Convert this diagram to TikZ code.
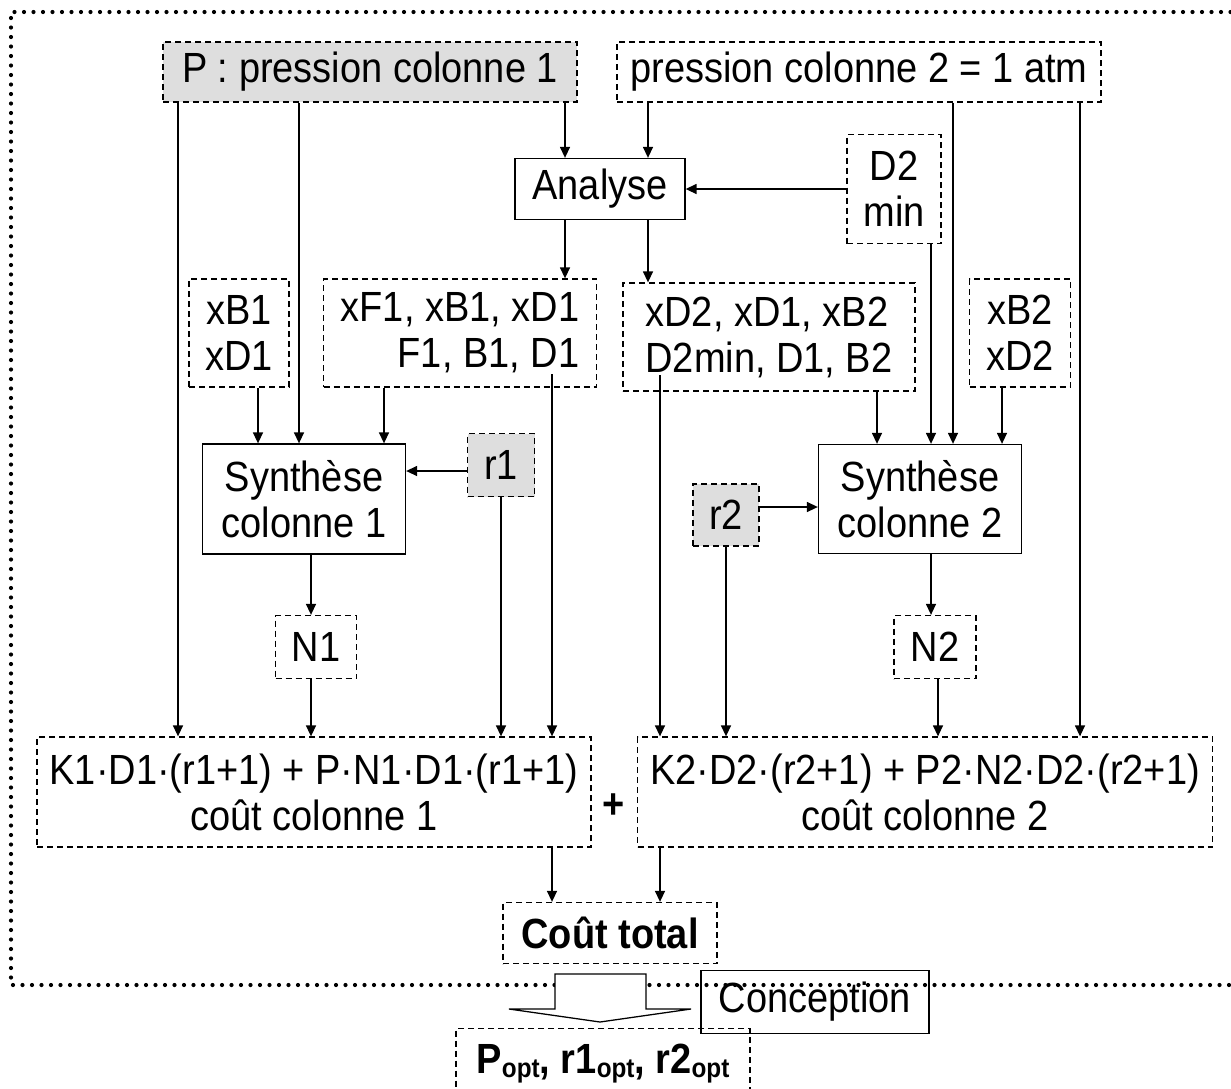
\documentclass[tikz,border=0pt]{standalone}
\usepackage{fontspec}
\setmainfont{Liberation Sans}[FakeStretch=0.9]
\usetikzlibrary{arrows.meta}
\tikzset{
    % Boxes
    box line/.style={line width=1.3pt},
    plain box/.style={draw,box line,inner sep=0pt,align=center},
    dashed box/.style={plain box,dash pattern=on 6pt off 4pt},
    grey box/.style={dashed box,fill=black!13},
    %
    % Arrows
    arrow tip/.tip={Triangle[length=11pt,width=10pt]},
    arr/.style={-{arrow tip},line width=1.4pt},
    hollow arrow/.style={draw,box line,fill=white},
    %
    % Frame
    dotted frame/.style={line width=4.2pt,dash pattern=on 0pt off 9.5pt,line cap=round},
}
\newcommand{\opt}{\raisebox{-4pt}{\fontsize{27}{27}\selectfont opt}}

\begin{document}
\begin{tikzpicture}[x=1pt,y=-1pt,font=\fontsize{42.2}{46}\selectfont]
    \clip (0,0) rectangle (1231,1088);
    \draw[dotted frame] (1240,12) -- (11,12) -- (11,985) -- (1240,985);

    % Inputs
    \node[grey box,minimum width=414pt,minimum height=60pt] (P) at (370,72) {P : pression colonne 1};
    \node[dashed box,minimum width=484pt,minimum height=60pt] (P2) at (859,72) {pression colonne 2 = 1 atm};
    \node[plain box,minimum width=170pt,minimum height=61pt] (Analyse) at (600,189) {Analyse};
    \node[dashed box,minimum width=94pt,minimum height=109pt] (D2min) at (894,189) {D2\\min};

    % Specifications
    \node[dashed box,minimum width=100pt,minimum height=108pt] (xB1) at (239,333) {xB1\\xD1};
    \node[dashed box,minimum width=273pt,minimum height=108pt,align=right] (xF1) at (460,333) {xF1, xB1, xD1\\F1, B1, D1};
    \node[dashed box,minimum width=292pt,minimum height=108pt,align=left] (xD2) at (769,337) {xD2, xD1, xB2\\D2min, D1, B2};
    \node[dashed box,minimum width=101pt,minimum height=108pt] (xB2) at (1020,333) {xB2\\xD2};
    \coordinate (D1 out) at (552,374);
    \coordinate (D2min out) at (660,375);

    % Columns
    \node[plain box,minimum width=203pt,minimum height=110pt] (Synth1) at (304,499) {Synthèse\\colonne 1};
    \node[grey box,minimum width=67pt,minimum height=63pt] (r1) at (501,465) {r1};
    \node[plain box,minimum width=203pt,minimum height=109pt] (Synth2) at (920,499) {Synthèse\\colonne 2};
    \node[grey box,minimum width=66pt,minimum height=62pt] (r2) at (726,515) {r2};
    \node[dashed box,minimum width=81pt,minimum height=63pt] (N1) at (316,647) {N1};
    \node[dashed box,minimum width=82pt,minimum height=63pt] (N2) at (935,647) {N2};

    % Costs
    \node[dashed box,minimum width=554pt,minimum height=110pt] (Cost1) at (314,792) {K1·D1·(r1+1) + P·N1·D1·(r1+1)\\coût colonne 1};
    \node[font=\fontsize{42.2}{46}\selectfont\bfseries] (Plus) at (614,806) {+};
    \node[dashed box,minimum width=575pt,minimum height=110pt] (Cost2) at (925,792) {K2·D2·(r2+1) + P2·N2·D2·(r2+1)\\coût colonne 2};
    \node[dashed box,minimum width=214pt,minimum height=61pt,font=\fontsize{42.2}{46}\selectfont\bfseries] (Total) at (610,933) {Coût total};

    % Design
    \draw[hollow arrow] (555,974) -- (646,974) -- (646,1009) -- (691,1009) -- (600,1022) -- (509,1009) -- (555,1009) -- cycle;
    \node[plain box,minimum width=228pt,minimum height=63pt] (Conception) at (815,1002) {Conception};
    \node[dashed box,minimum width=294pt,minimum height=70pt,anchor=north,font=\fontsize{42.2}{46}\selectfont\bfseries] (Popt) at (603,1028) {P\opt, r1\opt, r2\opt};

    % Links
    \draw[arr] (P.south -| 178,0) -- (Cost1.north -| 178,0);
    \draw[arr] (P.south -| 299,0) -- (Synth1.north -| 299,0);
    \draw[arr] (P.south -| 565,0) -- (Analyse.north -| 565,0);
    \draw[arr] (P2.south -| 648,0) -- (Analyse.north -| 648,0);
    \draw[arr] (P2.south -| 953,0) -- (Synth2.north -| 953,0);
    \draw[arr] (P2.south -| 1080,0) -- (Cost2.north -| 1080,0);
    \draw[arr] (Analyse.south -| 565,0) -- (xF1.north -| 565,0);
    \draw[arr] (Analyse.south -| 648,0) -- (xD2.north -| 648,0);
    \draw[arr] (D2min.west) -- (Analyse.east);
    \draw[arr] (D2min.south -| 931,0) -- (Synth2.north -| 931,0);
    \draw[arr] (xB1.south -| 258,0) -- (Synth1.north -| 258,0);
    \draw[arr] (xF1.south -| 384,0) -- (Synth1.north -| 384,0);
    \draw[arr] (D1 out) -- (Cost1.north -| D1 out);
    \draw[arr] (r1.south) -- (Cost1.north -| r1.south);
    \draw[arr] ([yshift=-6pt]r1.west) -- (Synth1.east |- 0,471);
    \draw[arr] (Synth1.south -| 311,0) -- (N1.north -| 311,0);
    \draw[arr] (N1.south -| 311,0) -- (Cost1.north -| 311,0);
    \draw[arr] (D2min out) -- (Cost2.north -| D2min out);
    \draw[arr] (xD2.south -| 877,0) -- (Synth2.north -| 877,0);
    \draw[arr] (xB2.south -| 1002,0) -- (Synth2.north -| 1002,0);
    \draw[arr] (r2.south) -- (Cost2.north -| r2.south);
    \draw[arr] ([yshift=8pt]r2.east) -- (Synth2.west |- 0,507);
    \draw[arr] (Synth2.south -| 931,0) -- (N2.north -| 931,0);
    \draw[arr] (N2.south -| 938,0) -- (Cost2.north -| 938,0);
    \draw[arr] (Cost1.south -| 552,0) -- (Total.north -| 552,0);
    \draw[arr] (Cost2.south -| 660,0) -- (Total.north -| 660,0);
\end{tikzpicture}
\end{document}
